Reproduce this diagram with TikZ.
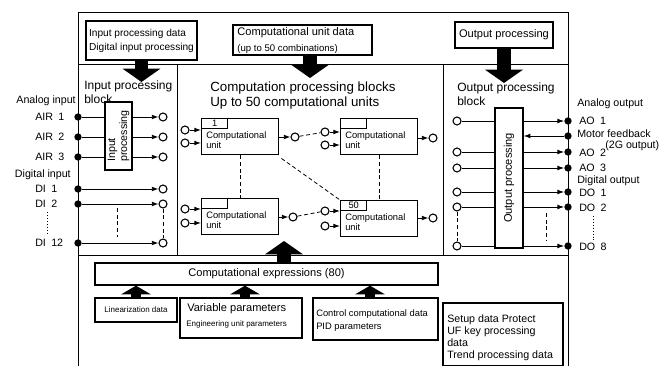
\documentclass[tikz,border=0pt]{standalone}
\usepackage{fontspec}
\setmainfont{Liberation Sans}
\usetikzlibrary{arrows.meta,fit,calc}
\newcommand\myfA{\fontsize{8.3}{9.6}\selectfont}
\newcommand\myfH{\fontsize{7.6}{10.5}\selectfont}
\newcommand\myfB{\fontsize{7.2}{8.6}\selectfont}
\newcommand\myfT{\fontsize{9}{9.8}\selectfont}
\newcommand\myfC{\fontsize{10}{11.2}\selectfont}
\newcommand\myfL{\fontsize{8}{9}\selectfont}
\newcommand\myfU{\fontsize{7}{8}\selectfont}
\newcommand\myfS{\fontsize{6}{7}\selectfont}
\begin{document}
\begin{tikzpicture}[x=0.75pt,y=-0.75pt,
 every node/.style={inner sep=0pt},
 frameline/.style={line width=0.7pt},
 hbox/.style={draw,line width=1.3pt,inner sep=0pt},
 blk/.style={draw,line width=1pt,inner sep=0pt},
 bigarr/.style={line width=10pt,-{Triangle[length=10pt,width=28pt]}},
 lowarr/.style={line width=8pt,-{Triangle[length=6.5pt,width=22pt]}},
 sarr/.style={line width=0.7pt,-{Latex[length=5pt,width=3.6pt]}},
 hol/.style={circle,draw,line width=0.8pt,minimum size=6pt,fill=white},
 dot/.style={circle,fill,minimum size=5.5pt},
 dline/.style={dashed,dash pattern=on 3pt off 2pt,line width=0.6pt},
 dotline/.style={dash pattern=on 1pt off 1.2pt,line width=0.7pt},
 unitbox/.style={draw,line width=1.1pt,minimum width=57.75pt,minimum height=27pt,anchor=north west},
 tabbox/.style={draw,line width=1.1pt,minimum width=19.5pt,minimum height=7.5pt,anchor=north west,font=\myfU},
 utext/.style={anchor=north west,align=left,font=\myfU},
 lbl/.style={anchor=west,font=\myfL},
]
\useasboundingbox (0,0) rectangle (667,366);

% frame
\draw[frameline] (78,366) -- (78,12) -- (568,12) -- (568,366);
\draw[frameline] (78,64) -- (568,64);
\draw[frameline] (177,64) -- (177,255);
\draw[frameline] (443,64) -- (443,255);
\draw[frameline] (78,255) -- (568,255);

% header boxes
\node[hbox,fit={(86,21)(197,60)}] (ipd) {};
\node[align=left,font=\myfH] (ipdt) at (ipd.center) {Input processing data\\Digital input processing};
\node[hbox,fit={(233,25)(372,55)}] (cud) {};
\node[anchor=west,align=left] (cudt) at ($(cud.west)+(5,0)$) {{\myfA Computational unit data}\\{\myfB (up to 50 combinations)}};
\node[hbox,fit={(455,22)(553,48)}] (opd) {};
\node[font=\myfA] (opdt) at (opd.center) {Output processing};

\coordinate (ipT) at (141.5,82);
\coordinate (cuT) at (310,78);
\coordinate (opT) at (504,83);
\draw[bigarr] (ipd.south) -- (ipT);
\draw[bigarr] (cud.south -| cuT) -- (cuT);
\draw[bigarr] (opd.south -| opT) -- (opT);

% block titles
\node[anchor=north west,align=left,font=\myfT] (ipbt) at (84,81) {Input processing\\block};
\node[anchor=north west,align=left,font=\myfC] (cpbt) at (210,82) {Computation processing blocks\\Up to 50 computational units};
\node[anchor=north west,align=left,font=\myfT] (opbt) at (457,83) {Output processing\\block};

% ---------- input block
\node[anchor=east,font=\myfL] (lai) at (76,101) {Analog input};
\node[lbl] (lair1) at (35,117) {AIR\enspace 1};
\node[lbl] (lair2) at (35,137) {AIR\enspace 2};
\node[lbl] (lair3) at (35,157) {AIR\enspace 3};
\node[anchor=east,font=\myfL] (ldi) at (71,175) {Digital input};
\node[lbl] (ldi1) at (35,189) {DI\enspace 1};
\node[lbl] (ldi2) at (35,204) {DI\enspace 2};
\node[lbl] (ldi12) at (35,243) {DI\enspace 12};
\coordinate (dvA) at (47,212);
\coordinate (dvB) at (47,235);
\draw[dotline] (dvA) -- (dvB);

\foreach \n/\y in {air1/117,air2/137,air3/157,di1/189,di2/204,di12/243}{
  \node[dot] (d\n) at (78,\y) {};
  \node[hol] (c\n) at (163,\y) {};
}
\node[blk,fit={(105,102)(132,170)}] (ipb) {};
\node[rotate=90,align=left,font=\myfL] (ipbtx) at (ipb.center) {Input\\processing};
\foreach \n in {air1,air2,air3}{
  \draw[line width=0.7pt] (d\n) -- (d\n -| ipb.west);
  \draw[sarr] (c\n -| ipb.east) -- (c\n);
}
\foreach \n in {di1,di2,di12}{
  \draw[sarr] (d\n) -- (c\n);
}
\draw[dline] (117,208) -- (117,237);
\draw[dline] (cdi2) -- (cdi12);

% ---------- computational units
\node[unitbox] (u1) at (201,118) {};
\node[unitbox] (u2) at (340,118) {};
\node[unitbox] (u3) at (201,198) {};
\node[unitbox] (u4) at (340,200) {};
\node[tabbox] (t1) at (u1.north west) {1};
\node[tabbox] (t2) at (u2.north west) {};
\node[tabbox] (t3) at (u3.north west) {};
\node[tabbox] (t4) at (u4.north west) {50};
\foreach \u in {1,2,3,4}{
  \node[utext] (ut\u) at ($(u\u.north west)+(5,13)$) {Computational\\unit};
}
% inputs
\node[hol] (i1a) at (185,130) {};
\node[hol] (i1b) at (185,143) {};
\node[hol] (i2a) at (325,132) {};
\node[hol] (i2b) at (325,145) {};
\node[hol] (i3a) at (185,209) {};
\node[hol] (i3b) at (185,223) {};
\node[hol] (i4a) at (325,211) {};
\node[hol] (i4b) at (325,226) {};
\foreach \u in {1,2,3,4}{
  \draw[sarr] (i\u a) -- (i\u a -| u\u.west);
  \draw[sarr] (i\u b) -- (i\u b -| u\u.west);
}
% outputs
\node[hol] (o1) at (295,137) {};
\node[hol] (o2) at (433,138) {};
\node[hol] (o3) at (293,217) {};
\node[hol] (o4) at (433,218) {};
\foreach \u in {1,2,3,4}{
  \draw[sarr] (u\u.east |- o\u) -- (o\u);
}
\draw[dline] (o1) -- (i2a);
\draw[dline] (o3) -- (i4a);
\draw[dline] (u1.south) -- (u3.north);
\draw[dline] (u2.south) -- (u4.north);
\draw[dline] ($(u1.south east)+(2,3)$) -- (u4.north west);

% ---------- output block
\node[blk,fit={(495,108)(523,248)}] (opb) {};
\node[rotate=90,font=\myfA] (opbtx) at (opb.center) {Output processing};
\foreach \n/\y in {ao1/121,ao2/152,ao3/168,do1/192,do2/207,do8/246}{
  \node[hol] (l\n) at (457,\y) {};
  \node[dot] (r\n) at (568,\y) {};
  \draw[line width=0.7pt] (l\n) -- (l\n -| opb.west);
  \draw[sarr] (opb.east |- r\n) -- (r\n);
}
\node[dot] (rmf) at (568,136) {};
\draw[sarr] (rmf) -- (rmf -| opb.east);
\draw[dline] (ldo2) -- (ldo8);
\draw[dline] (546,213) -- (546,240);

\node[lbl] (lao) at (577,104) {Analog output};
\node[lbl] (lao1) at (579,121) {AO\enspace 1};
\node[lbl] (lmf) at (577,134) {Motor feedback};
\node[lbl] (l2g) at (605,146) {(2G output)};
\node[lbl] (lao2) at (579,153) {AO\enspace 2};
\node[lbl] (lao3) at (579,168) {AO\enspace 3};
\node[lbl] (ldo) at (577,181) {Digital output};
\node[lbl] (ldo1) at (579,193) {DO\enspace 1};
\node[lbl] (ldo2t) at (579,208) {DO\enspace 2};
\node[lbl] (ldo8t) at (579,247) {DO\enspace 8};
\coordinate (rvA) at (593,216);
\coordinate (rvB) at (593,240);
\draw[dotline] (rvA) -- (rvB);

% ---------- lower section
\node[blk,fit={(95,263)(438,285)}] (ce) {};
\node[font=\myfA] (cet) at (ce.center) {Computational expressions (80)};
\coordinate (ceT) at (284,241);
\draw[bigarr] (ce.north -| ceT) -- (ceT);

\node[blk,fit={(95,298)(177,322)}] (lin) {};
\node[font=\myfS] (lint) at (lin.center) {Linearization data};
\node[blk,fit={(180,298)(302,338)}] (var) {};
\node[anchor=north west,font=\myfA] (vart1) at (187,303) {Variable parameters};
\node[anchor=north west,font=\myfS] (vart2) at (186,320) {Engineering unit parameters};
\node[blk,fit={(313,298)(438,340)}] (ctl) {};
\node[anchor=north west,font=\myfU] (ctlt1) at (316,309) {Control computational data};
\node[anchor=north west,font=\myfU] (ctlt2) at (316,323) {PID parameters};
\node[blk,fit={(443,303)(563,366)}] (setb) {};
\node[anchor=north west,align=left,font=\myfL] (sett) at (447,315) {Setup data Protect\\UF key processing\\data\\Trend processing data};

\draw[lowarr] (lin.north) -- (lin.north |- ce.south);
\draw[lowarr] (var.north -| 245,0) -- (ce.south -| 245,0);
\draw[lowarr] (ctl.north -| 370,0) -- (ce.south -| 370,0);
\end{tikzpicture}
\end{document}
